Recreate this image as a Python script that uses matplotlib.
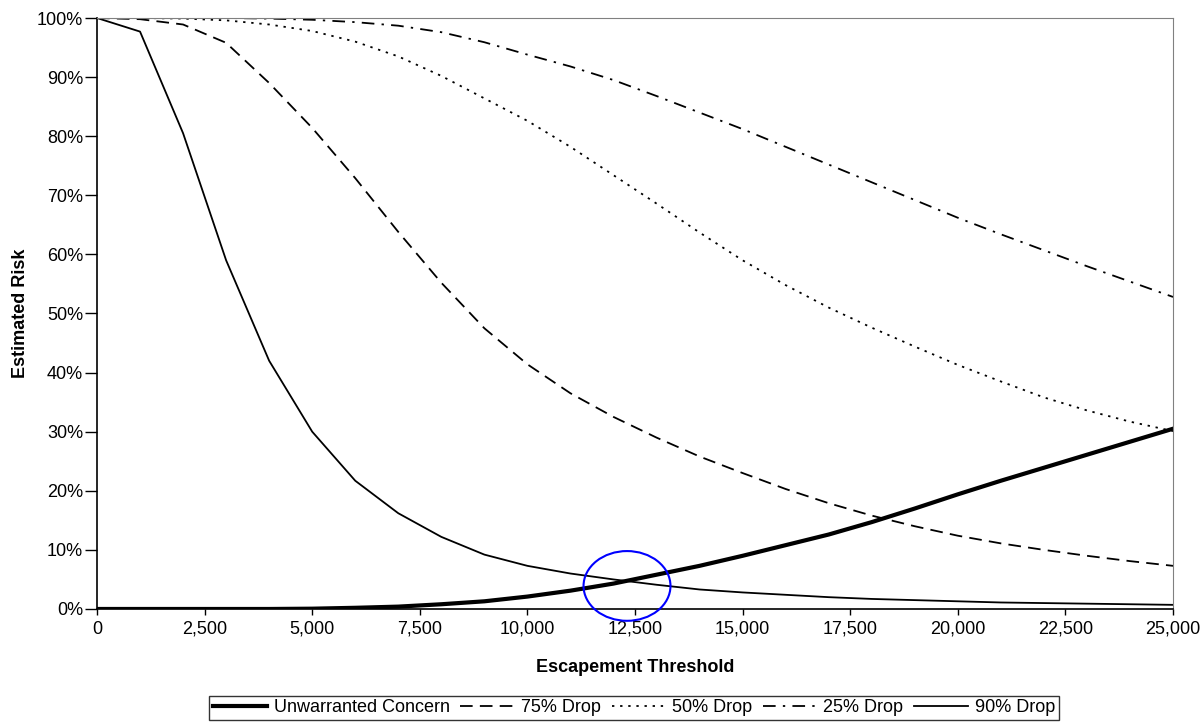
import matplotlib
matplotlib.use('Agg')
from matplotlib import pyplot as plt
from matplotlib.patches import Ellipse
from matplotlib.ticker import FuncFormatter, MultipleLocator

plt.rcParams['font.family'] = ['Liberation Sans', 'DejaVu Sans']

threshold = list(range(0, 26000, 1000))

unwarranted = [0.0, 0.0, 0.0, 0.0, 0.0, 0.05, 0.2, 0.4, 0.8, 1.3, 2.1, 3.1, 4.3,
               5.8, 7.3, 9.0, 10.8, 12.6, 14.7, 17.0, 19.4, 21.7, 23.9, 26.1, 28.3, 30.5]
drop75 = [100, 99.8, 98.9, 95.8, 89.0, 81.4, 72.9, 63.8, 55.2, 47.5, 41.4, 36.5, 32.5,
          29.0, 25.8, 23.0, 20.3, 17.9, 15.8, 14.0, 12.4, 11.1, 10.0, 9.0, 8.1, 7.3]
drop50 = [100, 100, 99.9, 99.6, 98.9, 97.8, 96.0, 93.5, 90.2, 86.4, 82.6, 78.2, 73.4,
          68.6, 63.7, 59.0, 54.8, 51.0, 47.6, 44.4, 41.3, 38.5, 35.8, 33.6, 31.7, 30.1]
drop25 = [100, 100, 100, 100, 99.9, 99.7, 99.3, 98.7, 97.6, 95.9, 93.8, 91.8, 89.5,
          86.8, 84.0, 81.2, 78.2, 75.2, 72.2, 69.2, 66.2, 63.4, 60.7, 58.0, 55.4, 52.8]
drop90 = [100, 97.7, 80.5, 59.0, 42.0, 30.0, 21.7, 16.2, 12.2, 9.2, 7.3, 6.0, 5.0,
          4.1, 3.3, 2.8, 2.4, 2.0, 1.7, 1.5, 1.3, 1.1, 1.0, 0.9, 0.8, 0.7]

fig = plt.figure(figsize=(12.02, 7.23), dpi=100)
ax = fig.add_axes([0.0807, 0.1577, 0.8952, 0.8174])

ax.plot(threshold, unwarranted, color='black', linewidth=3.0, label='Unwarranted Concern')
ax.plot(threshold, drop75, color='black', linewidth=1.3, dashes=(7, 4), label='75% Drop')
ax.plot(threshold, drop50, color='black', linewidth=1.3, dashes=(1.3, 3.2), label='50% Drop')
ax.plot(threshold, drop25, color='black', linewidth=1.3, dashes=(7, 4, 1.3, 4), label='25% Drop')
ax.plot(threshold, drop90, color='black', linewidth=1.3, label='90% Drop')

# circle marking the crossing point
ax.add_patch(Ellipse((12314, 3.9), 2020, 11.8, fill=False, edgecolor='#0000ff',
                     linewidth=1.5, clip_on=False, zorder=5))

ax.set_xlim(0, 25000)
ax.set_ylim(0, 100)
ax.xaxis.set_major_locator(MultipleLocator(2500))
ax.yaxis.set_major_locator(MultipleLocator(10))
ax.xaxis.set_major_formatter(FuncFormatter(lambda v, p: '{:,.0f}'.format(v)))
ax.yaxis.set_major_formatter(FuncFormatter(lambda v, p: '{:.0f}%'.format(v)))
ax.tick_params(axis='x', labelsize=13, direction='out', length=4.5, width=1, pad=4)
ax.tick_params(axis='y', labelsize=13, direction='out', length=9, width=1, pad=1)

for side in ['top', 'right']:
    ax.spines[side].set_color('#808080')
for side in ['left', 'bottom']:
    ax.spines[side].set_color('black')
    ax.spines[side].set_linewidth(1.2)

ax.set_xlabel('Escapement Threshold', fontsize=13, fontweight='bold', labelpad=15)
ax.set_ylabel('Estimated Risk', fontsize=13, fontweight='bold', labelpad=6)

leg = fig.legend(loc='center', bbox_to_anchor=(0.5275, 0.021), ncol=5, fontsize=13,
                 frameon=True, fancybox=False, edgecolor='black', handlelength=3.0,
                 handletextpad=0.35, columnspacing=0.6, borderpad=0.2, borderaxespad=0)
leg.get_frame().set_linewidth(1.0)

fig.savefig('out.png', dpi=100)
